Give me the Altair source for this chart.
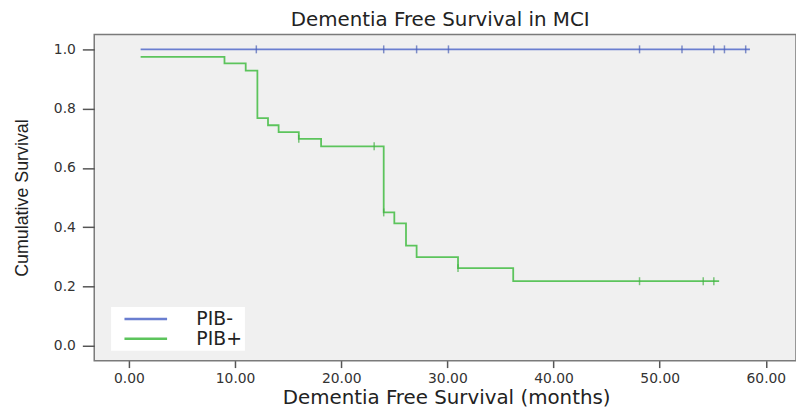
import altair as alt
import pandas as pd

groups = ["PIB-", "PIB+"]

# PIB- curve (no events)
neg_times = [1.1, 58.5]
neg_surv = [1.0, 1.0]
neg_censor_times = [12.0, 24.0, 27.1, 30.1, 48.1, 52.1, 55.1, 56.1, 58.1]
neg_censor_surv = [1.0, 1.0, 1.0, 1.0, 1.0, 1.0, 1.0, 1.0, 1.0]

# PIB+ curve
pos_times = [1.1, 9.0, 11.0, 12.1, 13.1, 14.1, 16.0, 18.1, 24.0, 25.0, 26.1, 27.1, 31.0, 36.2, 55.6]
pos_surv = [0.975, 0.953, 0.928, 0.768, 0.744, 0.721, 0.698, 0.673, 0.450, 0.413, 0.338, 0.299, 0.262, 0.218, 0.218]
pos_censor_times = [16.0, 23.1, 24.0, 31.0, 48.1, 54.1, 55.1]
pos_censor_surv = [0.698, 0.673, 0.450, 0.262, 0.218, 0.218, 0.218]

x_ticks = [0, 10, 20, 30, 40, 50, 60]
y_ticks = [0.0, 0.2, 0.4, 0.6, 0.8, 1.0]

line_colors = ["#6a7ed0", "#5cc45c"]
censor_colors = ["#4a5fb5", "#45b045"]

curves = pd.DataFrame(
    {"group": ["PIB-"] * len(neg_times) + ["PIB+"] * len(pos_times),
     "time": neg_times + pos_times,
     "surv": neg_surv + pos_surv}
)
censors = pd.DataFrame(
    {"group": ["PIB-"] * len(neg_censor_times) + ["PIB+"] * len(pos_censor_times),
     "time": neg_censor_times + pos_censor_times,
     "surv": neg_censor_surv + pos_censor_surv}
)

xscale = alt.Scale(domain=[-3.27, 62.84], nice=False, zero=False)
yscale = alt.Scale(domain=[-0.05, 1.05], nice=False, zero=False)

xaxis = alt.Axis(
    values=x_ticks, format=".2f", grid=False, domain=False,
    tickSize=7, tickColor="#555", tickWidth=1.5,
    labelFont="DejaVu Sans", labelFontSize=14, labelColor="#333", labelPadding=4,
    title="Dementia Free Survival (months)", titleFont="DejaVu Sans", titleFontSize=20,
    titleFontWeight="normal", titleColor="#222", titleX=355, titleY=43,
    titleBaseline="alphabetic", titleAlign="center",
)
yaxis = alt.Axis(
    values=y_ticks, format=".1f", grid=False, domain=False,
    tickSize=12, tickColor="#555", tickWidth=1.5,
    labelFont="DejaVu Sans", labelFontSize=14, labelColor="#333", labelPadding=7,
    title="Cumulative Survival", titleFont="Liberation Sans",
    titleFontSize=18, titleFontWeight="normal", titleColor="#222",
    titleAngle=270, titleX=-72, titleY=164.5, titleAlign="center", titleBaseline="middle",
)

lines = alt.Chart(curves).mark_line(interpolate="step-after", strokeWidth=1.8).encode(
    x=alt.X("time:Q", scale=xscale, axis=xaxis),
    y=alt.Y("surv:Q", scale=yscale, axis=yaxis),
    color=alt.Color(
        "group:N",
        scale=alt.Scale(domain=groups, range=line_colors),
        legend=alt.Legend(
            title=None, orient="none", legendX=17, legendY=275,
            fillColor="white", padding=2, rowPadding=0, clipHeight=20,
            symbolType="stroke", symbolSize=1849, symbolStrokeWidth=2.5,
            symbolOffset=10, labelOffset=28,
            labelFont="DejaVu Sans", labelFontSize=19, labelColor="#222",
        ),
    ),
)

ticks = alt.Chart(censors).mark_tick(orient="vertical", size=8, thickness=1.5).encode(
    x=alt.X("time:Q", scale=xscale),
    y=alt.Y("surv:Q", scale=yscale),
    color=alt.Color("group:N", scale=alt.Scale(domain=groups, range=censor_colors), legend=None),
)

chart = (
    alt.layer(lines, ticks)
    .resolve_scale(color="independent")
    .properties(
        width=708, height=329,
        autosize=alt.AutoSizeParams(type="none"),
        padding={"left": 87, "top": 25, "right": 0, "bottom": 47},
        title=alt.TitleParams(
            "Dementia Free Survival in MCI", font="DejaVu Sans", fontSize=20,
            fontWeight="normal", color="#222", anchor="middle", offset=5, dx=-5,
        ),
        background="white",
    )
    .configure_view(fill="#f0f0f0", stroke="#7a7a7a", strokeWidth=1.5)
)

chart.save("out.html", embed_options={"renderer": "svg", "actions": False})
